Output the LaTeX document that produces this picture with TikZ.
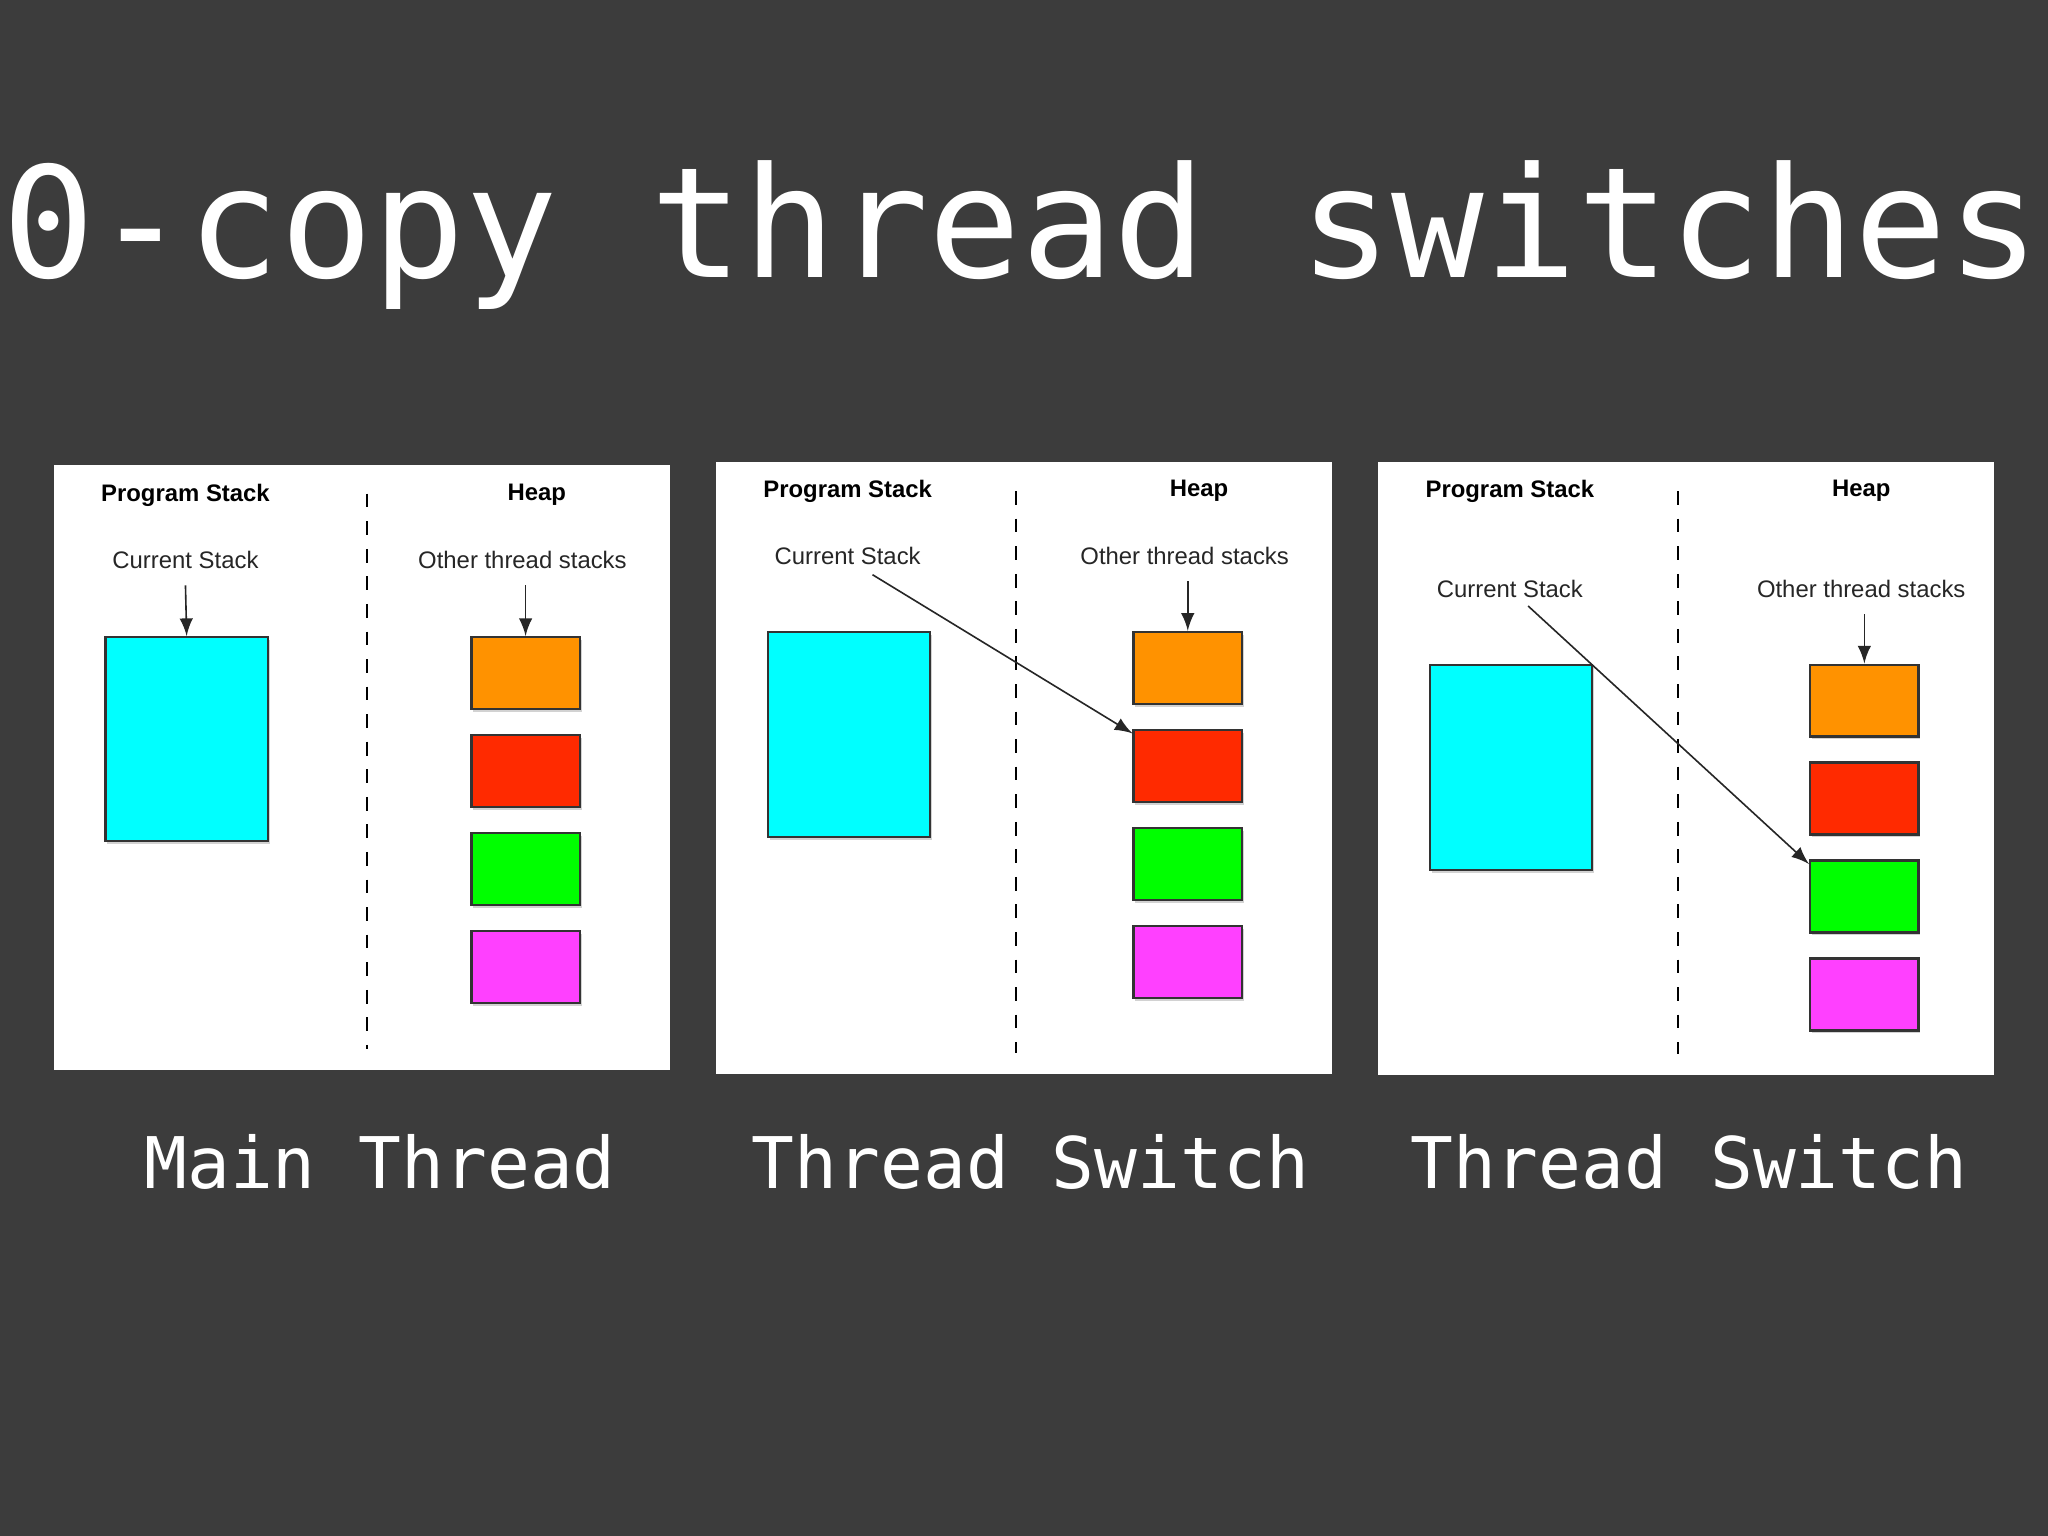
\documentclass[tikz,border=0pt]{standalone}
\usepackage{fontspec}
\setmainfont{Liberation Sans}
\newfontfamily\monof{DejaVu Sans Mono}
\usetikzlibrary{shadows}
\definecolor{bg}{HTML}{3C3C3C}
\definecolor{cy}{HTML}{00FFFF}
\definecolor{orr}{HTML}{FF9200}
\definecolor{rd}{HTML}{FF2A00}
\definecolor{gr}{HTML}{00FF00}
\definecolor{mg}{HTML}{FF40FF}
\tikzset{
 blk/.style={draw=black!80,line width=0.5pt,anchor=north west,inner sep=0,drop shadow={shadow xshift=0.4pt,shadow yshift=-0.6pt,opacity=0.35}},
 hbox/.style={blk,minimum width=0.83cm,minimum height=0.55cm},
 ptxt/.style={font=\fontsize{5.2}{6}\selectfont,text=black!85},
 ptb/.style={font=\fontsize{5.2}{6}\selectfont\bfseries,text=black},
 arr/.style={-latex,line width=0.35pt,black!85},
 caplabel/.style={font=\monof\fontsize{15.5}{18}\selectfont,text=white},
}
\begin{document}
\begin{tikzpicture}[x=0.01cm,y=-0.01cm]
\fill[bg] (0,0) rectangle (1568,1176);
\useasboundingbox (0,0) rectangle (1568,1176);
\node[font=\monof\fontsize{33.5}{36}\selectfont,text=white] (title) at (782,180) {0-copy thread switches};
% ---------- Panel 1
\fill[white] (41,356) rectangle (513,819);
\draw[dashed,line width=0.4pt] (281,378) -- (281,803);
\node[ptb] (ps1) at (142,379) {Program Stack};
\node[ptb] (hp1) at (411,379) {Heap};
\node[ptxt] (cs1) at (142,429) {Current Stack};
\node[ptxt] (ot1) at (400,429) {Other thread stacks};
\node[blk,fill=cy,minimum width=1.24cm,minimum height=1.56cm] (c1) at (80,487) {};
\node[hbox,fill=orr] (o1) at (360,487) {};
\node[hbox,fill=rd] (r1) at (360,562) {};
\node[hbox,fill=gr] (g1) at (360,637) {};
\node[hbox,fill=mg] (m1) at (360,712) {};
\draw[arr] (cs1.south) -- (c1.north);
\draw[arr] (ot1.south -| o1.north) -- (o1.north);
% ---------- Panel 2
\fill[white] (548,354) rectangle (1020,822);
\draw[dashed,line width=0.4pt] (778,376) -- (778,806);
\node[ptb] (ps2) at (649,376) {Program Stack};
\node[ptb] (hp2) at (918,376) {Heap};
\node[ptxt] (cs2) at (649,426) {Current Stack};
\node[ptxt] (ot2) at (907,426) {Other thread stacks};
\node[blk,fill=cy,minimum width=1.24cm,minimum height=1.57cm] (c2) at (587,483) {};
\node[hbox,fill=orr] (o2) at (867,483) {};
\node[hbox,fill=rd] (r2) at (867,558) {};
\node[hbox,fill=gr] (g2) at (867,633) {};
\node[hbox,fill=mg] (m2) at (867,708) {};
\draw[arr] (ot2.south -| o2.north) -- (o2.north);
\coordinate (s2) at (668,440);
\draw[arr] (s2) -- ([yshift=-1]r2.north west);
% ---------- Panel 3
\fill[white] (1055,354) rectangle (1527,823);
\draw[dashed,line width=0.4pt] (1285,376) -- (1285,807);
\node[ptb] (ps3) at (1156,376) {Program Stack};
\node[ptb] (hp3) at (1425,376) {Heap};
\node[ptxt] (cs3) at (1156,451) {Current Stack};
\node[ptxt] (ot3) at (1425,451) {Other thread stacks};
\node[blk,fill=cy,minimum width=1.24cm,minimum height=1.57cm] (c3) at (1094,508) {};
\node[hbox,fill=orr] (o3) at (1385,508) {};
\node[hbox,fill=rd] (r3) at (1385,583) {};
\node[hbox,fill=gr] (g3) at (1385,658) {};
\node[hbox,fill=mg] (m3) at (1385,733) {};
\draw[arr] (ot3.south -| o3.north) -- (o3.north);
\coordinate (s3) at (1170,464);
\draw[arr] (s3) -- ([yshift=-1]g3.north west);
% captions
\node[caplabel] (l1) at (291,890) {Main Thread};
\node[caplabel] (l2) at (789,890) {Thread Switch};
\node[caplabel] (l3) at (1293,890) {Thread Switch};
\end{tikzpicture}
\end{document}
